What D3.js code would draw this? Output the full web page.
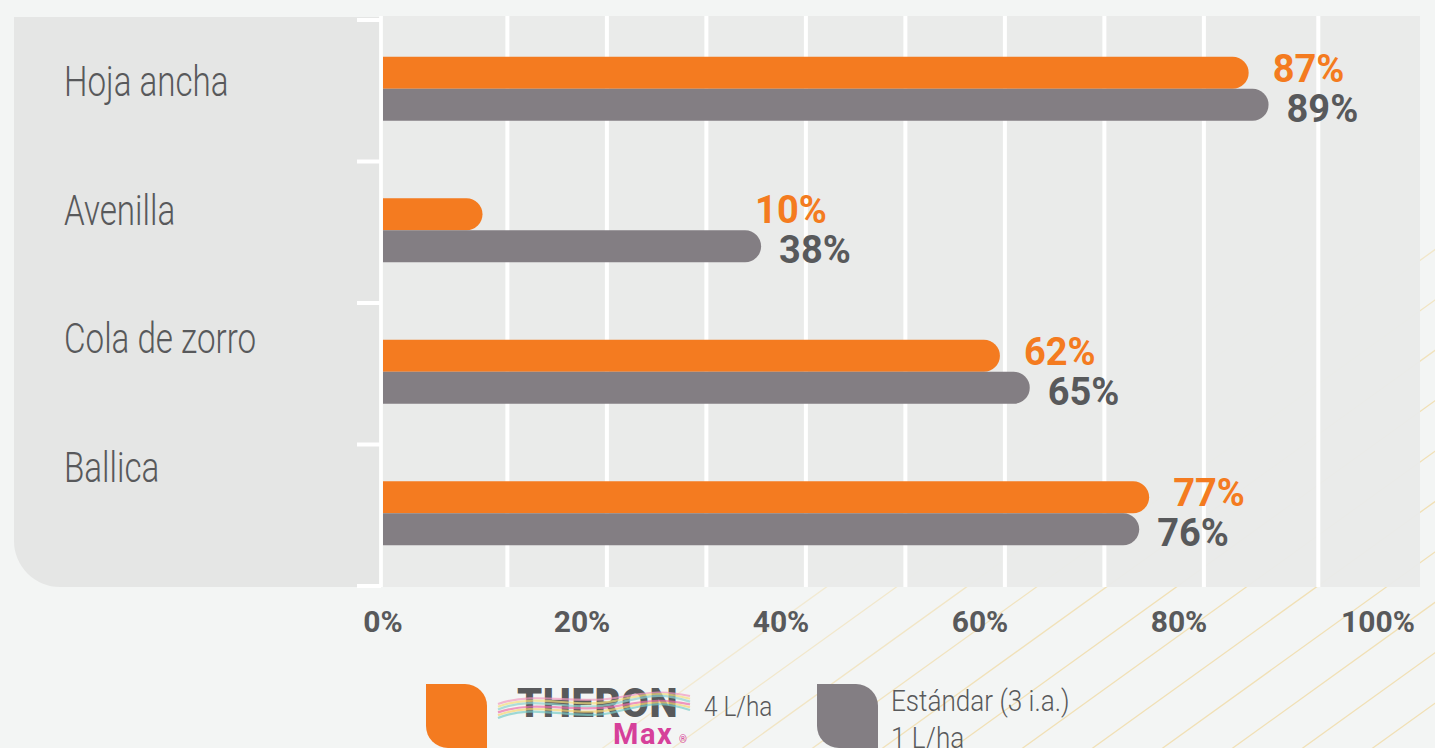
<!DOCTYPE html>
<html>
<head>
<meta charset="utf-8">
<script src="https://cdn.jsdelivr.net/npm/d3@7"></script>
<style>
  html, body { margin: 0; padding: 0; background: #f3f5f4; }
  svg { display: block; }
</style>
</head>
<body>
<svg id="chart" width="1435" height="748"></svg>
<script>
// ---------- data ----------
const categories = ["Hoja ancha", "Avenilla", "Cola de zorro", "Ballica"];
const theronValues = [87, 10, 62, 77];
const standardValues = [89, 38, 65, 76];
const seriesKeys = ["theron", "standard"];
const xTickValues = [0, 20, 40, 60, 80, 100];
const gridValues = [12.5, 22.5, 32.5, 42.5, 52.5, 62.5, 72.5, 82.5, 94];
const legendTheronDose = "4 L/ha";
const legendStandardLines = ["Estándar (3 i.a.)", "1 L/ha"];

// ---------- setup ----------
const W = 1435, H = 748;
const svg = d3.select("#chart");
const ORANGE = "#f47b20", BARGRAY = "#837e83", TEXTGRAY = "#58595b";

const plot = { left: 383, right: 1420, top: 16, bottom: 587 };
const x = d3.scaleLinear().domain([0, 100]).range([383, 1378]);
const y = d3.scaleBand().domain(categories).range([20, 586]);
const yLabel = d3.scalePoint().domain(categories).range([96, 482]);
const barH = 32;
const inner = d3.scaleBand().domain(seriesKeys).range([0, barH * 2]);

const rows = categories.map((c, i) => ({ cat: c, theron: theronValues[i], standard: standardValues[i] }));

// background
svg.append("rect").attr("width", W).attr("height", H).attr("fill", "#f3f5f4");

// decorative diagonal lines
const defs = svg.append("defs");
const lg = defs.append("linearGradient").attr("id", "fadeLines")
  .attr("gradientUnits", "userSpaceOnUse")
  .attr("x1", 780).attr("y1", 360).attr("x2", 1000).attr("y2", 690);
lg.append("stop").attr("offset", 0).attr("stop-color", "#f0d9a0").attr("stop-opacity", 0);
lg.append("stop").attr("offset", 1).attr("stop-color", "#f0d9a0").attr("stop-opacity", 0.75);
const slope = 0.72;
const lineStarts = d3.range(600, 1560, 70);
svg.append("g").selectAll("line").data(lineStarts).join("line")
  .attr("x1", d => d).attr("y1", H + 2)
  .attr("x2", d => d + 700).attr("y2", H + 2 - 700 * slope)
  .attr("stroke", "url(#fadeLines)").attr("stroke-width", 1.3);

// left label panel with rounded bottom-left corner
const pr = 46;
svg.append("path")
  .attr("d", `M14,17H379V587H${14 + pr}A${pr},${pr} 0 0 1 14,${587 - pr}Z`)
  .attr("fill", "#e5e6e5");

// plot area
svg.append("rect")
  .attr("x", plot.left).attr("y", plot.top)
  .attr("width", plot.right - plot.left).attr("height", plot.bottom - plot.top)
  .attr("fill", "#e9eae9").attr("fill-opacity", 0.97);

// gridlines
svg.append("g").selectAll("line").data(gridValues).join("line")
  .attr("x1", d => x(d)).attr("x2", d => x(d))
  .attr("y1", plot.top).attr("y2", plot.bottom)
  .attr("stroke", "#ffffff").attr("stroke-width", 4);

// y axis line + ticks at band boundaries
svg.append("line").attr("x1", 381).attr("x2", 381)
  .attr("y1", plot.top).attr("y2", plot.bottom)
  .attr("stroke", "#ffffff").attr("stroke-width", 3.5);
const tickYs = categories.map(c => y(c)).concat([y.range()[1]]);
svg.append("g").selectAll("line").data(tickYs).join("line")
  .attr("x1", 357).attr("x2", 381)
  .attr("y1", d => d).attr("y2", d => d)
  .attr("stroke", "#ffffff").attr("stroke-width", 4);

// category labels
svg.append("g").selectAll("text").data(categories).join("text")
  .attr("transform", d => `translate(64,${yLabel(d)}) scale(0.79,1)`)
  .attr("font-family", "Roboto, 'Open Sans', sans-serif")
  .attr("font-weight", 300)
  .attr("font-size", 42)
  .attr("fill", TEXTGRAY)
  .text(d => d);

// bars
function barPath(x0, x1, yy, h) {
  const r = h / 2;
  const xe = Math.max(x0, x1 - r);
  return `M${x0},${yy}H${xe}A${r},${r} 0 0 1 ${xe},${yy + h}H${x0}Z`;
}
const off = (y.bandwidth() - barH * 2) / 2 - 2;
const groups = svg.append("g").selectAll("g").data(rows).join("g")
  .attr("transform", d => `translate(0,${y(d.cat) + off})`);

groups.append("path")
  .attr("d", d => barPath(x(0), x(d.theron), inner("theron"), barH))
  .attr("fill", ORANGE);
groups.append("path")
  .attr("d", d => barPath(x(0), x(d.standard), inner("standard"), barH))
  .attr("fill", BARGRAY);

// value labels
const fmt = d => d + "%";
groups.each(function(d) {
  const g = d3.select(this);
  const grayX = x(d.standard) + 18;
  const orangeX = Math.max(x(d.theron) + 24, grayX - 24);
  g.append("text")
    .attr("x", orangeX).attr("y", inner("theron") + barH - 7)
    .attr("font-family", "Roboto, sans-serif").attr("font-weight", 700)
    .attr("font-size", 38).attr("fill", ORANGE)
    .text(fmt(d.theron));
  g.append("text")
    .attr("x", grayX).attr("y", inner("standard") + barH + 1)
    .attr("font-family", "Roboto, sans-serif").attr("font-weight", 700)
    .attr("font-size", 38).attr("fill", TEXTGRAY)
    .text(fmt(d.standard));
});

// x axis tick labels
svg.append("g").selectAll("text").data(xTickValues).join("text")
  .attr("x", d => x(d)).attr("y", 632)
  .attr("text-anchor", "middle")
  .attr("font-family", "Roboto, sans-serif").attr("font-weight", 700)
  .attr("font-size", 30).attr("fill", TEXTGRAY)
  .text(d => d + "%");

// ---------- legend ----------
function leaf(x0, y0, w, h, r) {
  return `M${x0},${y0}H${x0 + w - r}A${r},${r} 0 0 1 ${x0 + w},${y0 + r}V${y0 + h}H${x0 + r}A${r},${r} 0 0 1 ${x0},${y0 + h - r}Z`;
}
const legend = svg.append("g");
legend.append("path").attr("d", leaf(426, 684, 61, 64, 22)).attr("fill", ORANGE);
legend.append("path").attr("d", leaf(817, 684, 61, 64, 22)).attr("fill", BARGRAY);

// THERON Max logo (text with colour ribbons)
legend.append("text")
  .attr("x", 517).attr("y", 717)
  .attr("font-family", "Roboto, sans-serif").attr("font-weight", 900)
  .attr("font-size", 40).attr("fill", TEXTGRAY).attr("letter-spacing", 0.6)
  .text("THERON");
const ribbonColors = ["#f29ac0", "#f5df7e", "#8fd3cf", "#ec6fa9", "#f7d774", "#79ccc8"];
const ribbon = legend.append("g").attr("opacity", 0.7);
ribbonColors.forEach((c, i) => {
  const yy = 696 + i * 2.8;
  const amp = 5 + (i % 3) * 1.5;
  ribbon.append("path")
    .attr("d", `M498,${yy + 8}C535,${yy - amp} 575,${yy + amp + 4} 615,${yy + 2}S 665,${yy - amp} 690,${yy}`)
    .attr("fill", "none").attr("stroke", c).attr("stroke-width", 2.2);
});
legend.append("text")
  .attr("x", 613).attr("y", 744)
  .attr("font-family", "Roboto, sans-serif").attr("font-weight", 700)
  .attr("font-size", 29).attr("fill", "#d6409a").attr("letter-spacing", 1.5)
  .text("Max");
legend.append("text")
  .attr("x", 679).attr("y", 743)
  .attr("font-family", "Roboto, sans-serif").attr("font-size", 10).attr("fill", "#d6409a")
  .text("®");
legend.append("text")
  .attr("transform", "translate(704,716) scale(0.87,1)")
  .attr("font-family", "Roboto, sans-serif").attr("font-weight", 300)
  .attr("font-size", 28).attr("fill", TEXTGRAY)
  .text(legendTheronDose);
legend.selectAll("text.std").data(legendStandardLines).join("text")
  .attr("class", "std")
  .attr("transform", (d, i) => `translate(891,${711 + i * 37}) scale(0.9,1)`)
  .attr("font-family", "Roboto, sans-serif").attr("font-weight", 300)
  .attr("font-size", 29).attr("fill", TEXTGRAY)
  .text(d => d);
</script>
</body>
</html>
